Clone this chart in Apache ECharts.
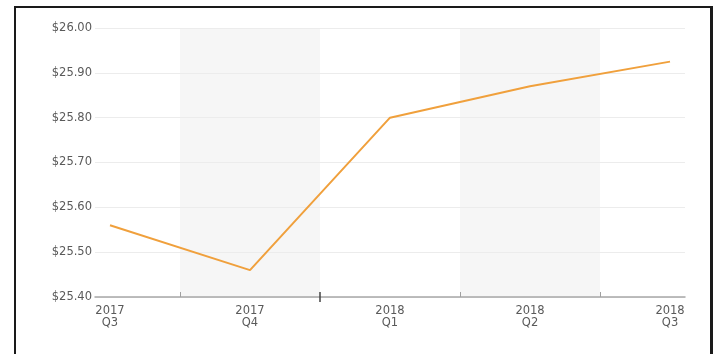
<!DOCTYPE html>
<html>
<head>
<meta charset="utf-8">
<script src="https://cdn.jsdelivr.net/npm/echarts@6/dist/echarts.min.js"></script>
<style>
  html, body { margin: 0; padding: 0; background: #fff; overflow: hidden; }
  #frame {
    position: absolute; left: 14px; top: 6px; width: 699px; height: 400px;
    border: 2px solid #1a1a1a; border-right-width: 3px; box-sizing: border-box;
  }
  #chart { position: absolute; left: 0; top: 0; width: 717px; height: 354px; }
</style>
</head>
<body>
<div id="frame"></div>
<div id="chart"></div>
<script>
// Quarter labels (year on the first line, quarter on the second)
const quarters = ['2017\nQ3', '2017\nQ4', '2018\nQ1', '2018\nQ2', '2018\nQ3'];
// Quarterly price, US dollars
const prices = [25.56, 25.46, 25.80, 25.87, 25.925];
// Y-axis range and step
const yMin = 25.40;
const yMax = 26.00;
const yStep = 0.10;
// Shaded quarter bands (index ranges on the quarter axis)
const bands = [[0.5, 1.5], [2.5, 3.5]];
// Quarter separators; the year change is drawn stronger
const quarterTicks = [0.5, 2.5, 3.5];
const yearTicks = [1.5];

const pad = 0.107;   // keeps the end points slightly off the axis ends
const labelFont = 'DejaVu Sans, Verdana, sans-serif';

const xBase = {
  type: 'value', min: -pad, max: quarters.length - 1 + pad,
  position: 'bottom', splitLine: { show: false }, z: 2
};

const chart = echarts.init(document.getElementById('chart'), null, { renderer: 'canvas' });
chart.setOption({
  animation: false,
  backgroundColor: 'transparent',
  grid: { left: 95, right: 32, top: 28, bottom: 57, containLabel: false },
  xAxis: [
    Object.assign({}, xBase, {
      axisLine: { show: true, lineStyle: { color: '#a8a8a8', width: 1.5 } },
      axisTick: { show: true, inside: true, length: 5, customValues: quarterTicks,
                  lineStyle: { color: '#a0a0a0' } },
      axisLabel: {
        show: true, customValues: quarters.map((q, i) => i),
        formatter: v => quarters[Math.round(v)],
        color: '#5a5a5a', fontSize: 11.5, fontFamily: labelFont, lineHeight: 12, margin: 8
      }
    }),
    Object.assign({}, xBase, {
      axisLine: { show: false },
      axisTick: { show: true, inside: true, length: 5, customValues: yearTicks,
                  lineStyle: { color: '#444', width: 1.5 } },
      axisLabel: { show: false }
    }),
    Object.assign({}, xBase, {
      axisLine: { show: false },
      axisTick: { show: true, inside: false, length: 5, customValues: yearTicks,
                  lineStyle: { color: '#444', width: 1.5 } },
      axisLabel: { show: false }
    })
  ],
  yAxis: {
    type: 'value', min: yMin, max: yMax, interval: yStep, z: 2,
    axisLine: { show: false },
    axisTick: { show: false },
    splitLine: { show: true, lineStyle: { color: '#ececec', width: 1 } },
    axisLabel: {
      formatter: v => '$' + v.toFixed(2),
      color: '#5a5a5a', fontSize: 11.5, fontFamily: labelFont, margin: 3
    }
  },
  series: [
    {
      name: 'bands', type: 'line', data: [], z: 1, silent: true,
      markArea: {
        silent: true,
        itemStyle: { color: '#f6f6f6' },
        data: bands.map(b => [{ xAxis: b[0], yAxis: yMin }, { xAxis: b[1], yAxis: yMax }])
      }
    },
    {
      name: 'price', type: 'line', z: 3,
      data: prices.map((v, i) => [i, v]),
      showSymbol: false, symbol: 'none',
      lineStyle: { color: '#f0a03c', width: 2 },
      itemStyle: { color: '#f0a03c' }
    }
  ]
});
</script>
</body>
</html>
